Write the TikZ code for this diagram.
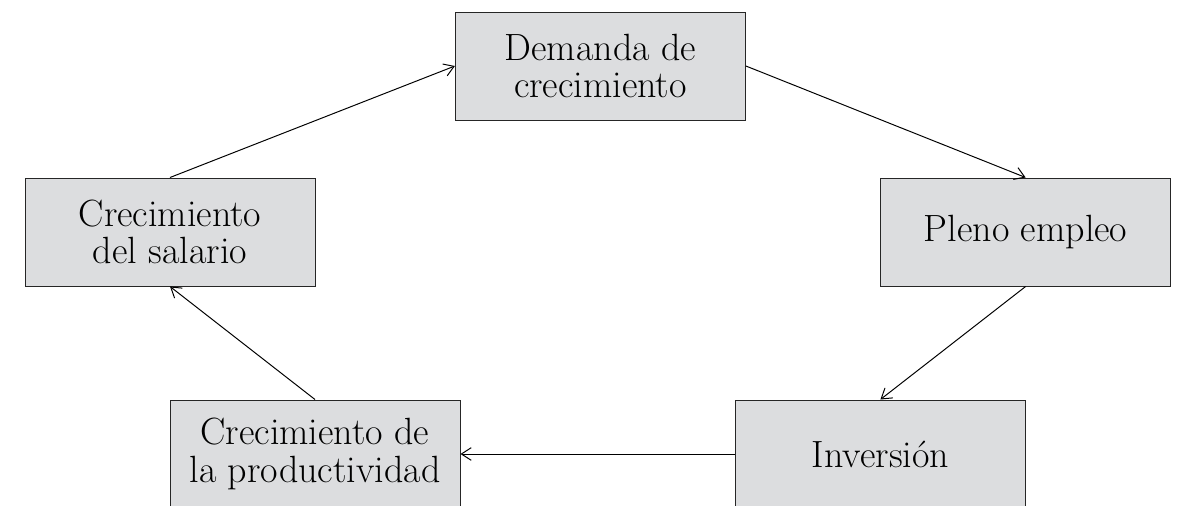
\documentclass[tikz,border=0pt]{standalone}
\usepackage{tikz}
\usetikzlibrary{arrows.meta}
\definecolor{boxgray}{HTML}{DCDDDF}

\begin{document}
\begin{tikzpicture}[
        stage/.style={draw=black!85, line width=0.7pt, fill=boxgray, minimum width=7.25cm,
            minimum height=2.7cm, align=center, inner sep=0pt,
            font=\fontsize{27}{26.5}\selectfont},
        link/.style={-{Straight Barb[length=7pt, width=9pt]}, line width=0.7pt}
    ]
        % 1. Fix the page size
        \useasboundingbox (0,0) rectangle (29.5,-12.65);

        % 2. Draw the five boxes of the cycle
        \node[stage] (dem) at (15.01,-1.65) {Demanda de\\crecimiento};
        \node[stage] (ple) at (25.64,-5.8) {Pleno empleo};
        \node[stage] (inv) at (22.01,-11.35) {Inversión};
        \node[stage] (pro) at (7.875,-11.35) {Crecimiento de\\la productividad};
        \node[stage] (sal) at (4.25,-5.8) {Crecimiento\\del salario};

        % 3. Connect them clockwise
        \draw[link] (sal.north) -- (dem.west);
        \draw[link] (dem.east) -- (ple.north);
        \draw[link] (ple.south) -- (inv.north);
        \draw[link] (inv.west) -- (pro.east);
        \draw[link] (pro.north) -- (sal.south);
    \end{tikzpicture}
\end{document}
